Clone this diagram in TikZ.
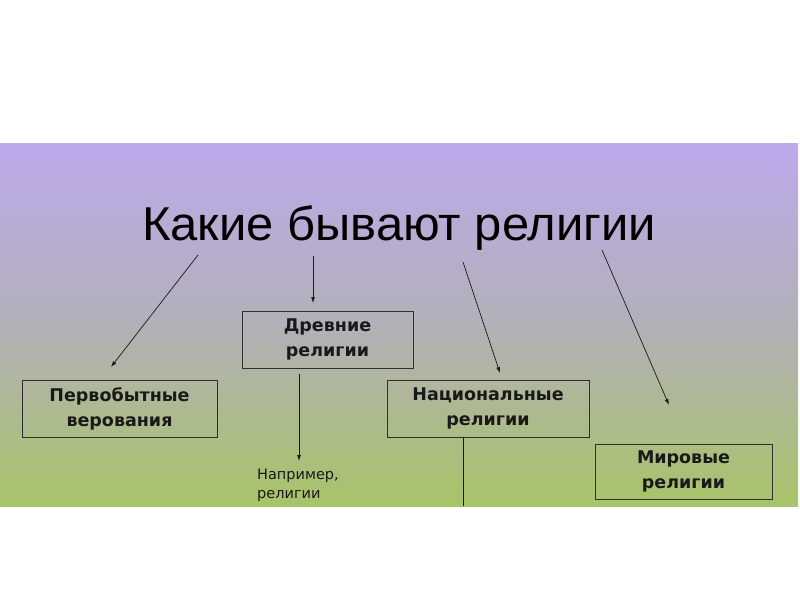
\documentclass[tikz,border=0pt]{standalone}
\usepackage{fontspec}
\setmainfont{DejaVu Sans}
\newfontfamily\titlefont{Liberation Sans}
\newfontfamily\boxfont{DejaVu Sans}
\usetikzlibrary{arrows.meta}
\definecolor{bgtop}{RGB}{189,169,236}
\definecolor{bgmid}{RGB}{178,176,184}
\definecolor{bgbot}{RGB}{168,196,104}
\definecolor{ink}{RGB}{25,25,25}
\tikzset{
  catbox/.style={draw=ink!80!gray, line width=0.9pt, rectangle, align=center, inner sep=0pt,
    font=\boxfont\bfseries\fontsize{17.5}{25}\selectfont, text=ink},
  link/.style={draw=ink, line width=0.7pt, -{Latex[length=6pt,width=4pt]}},
  plain/.style={draw=ink, line width=0.8pt}
}
\begin{document}
\begin{tikzpicture}[x=1pt,y=-1pt]
\useasboundingbox (0,0) rectangle (800,600);
\fill[white] (0,0) rectangle (800,600);
\shade[top color=bgtop, bottom color=bgbot, middle color=bgmid] (0,143) rectangle (798,506);
\node[font=\titlefont\fontsize{47.5}{48}\selectfont, text=black, anchor=base] (title) at (399,240) {\scalebox{1.03}[1]{Какие бывают религии}};
\node[catbox, minimum width=195pt, minimum height=57pt] (perv) at (119.5,408.5) {Первобытные\\верования};
\node[catbox, minimum width=171pt, minimum height=57pt] (drev) at (327.5,339.5) {Древние\\религии};
\node[catbox, minimum width=202pt, minimum height=57pt] (nac) at (488,408.5) {Национальные\\религии};
\node[catbox, minimum width=177pt, minimum height=55pt] (mir) at (683.5,471.5) {Мировые\\религии};
\node[anchor=north west, align=left, inner sep=0pt, font=\boxfont\fontsize{14.5}{19}\selectfont, text=ink] (ex) at (257,469) {Например,\\религии};
\coordinate (s1) at (198,255);
\coordinate (e1) at (111,367);
\coordinate (s2) at (313,256);
\coordinate (e2) at (313,303);
\coordinate (s3) at (463,262);
\coordinate (e3) at (500,373);
\coordinate (s4) at (602,250);
\coordinate (e4) at (669,405);
\coordinate (d1) at (299,374);
\coordinate (d2) at (299,461);
\coordinate (n2) at (463,506);
\draw[link] (s1) -- (e1);
\draw[link] (s2) -- (e2);
\draw[link] (s3) -- (e3);
\draw[link] (s4) -- (e4);
\draw[link] (d1) -- (d2);
\draw[plain] (nac.south -| n2) -- (n2);
\end{tikzpicture}
\end{document}
